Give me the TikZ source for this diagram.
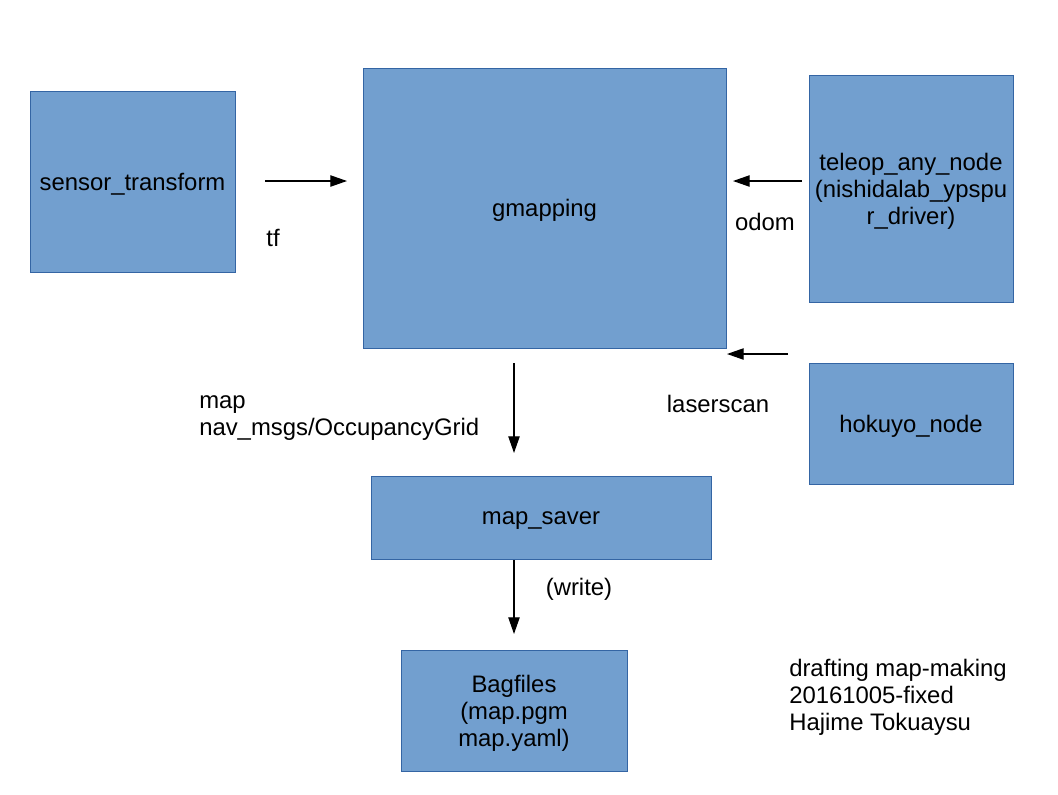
\documentclass[tikz,border=0pt]{standalone}
\usepackage{fontspec}
\setmainfont{Liberation Sans}
\usetikzlibrary{arrows.meta}
\definecolor{boxfill}{HTML}{729FCF}
\definecolor{boxline}{HTML}{3465A4}
\begin{document}
\begin{tikzpicture}[x=0.75pt,y=-0.75pt,
  blk/.style={draw=boxline,fill=boxfill,line width=0.6pt,inner sep=0pt},
  txt/.style={align=center,inner sep=0pt,yshift=-2pt,font=\fontsize{17.9}{20.25}\selectfont},
  lbl/.style={align=left,inner sep=0pt,font=\fontsize{17.9}{20.25}\selectfont},
  conn/.style={line width=0.9pt,-{Triangle[length=12.5pt,width=8.5pt]}}]
\useasboundingbox[fill=white] (0,0) rectangle (1058,794);
\node[blk,minimum width=205*0.75pt,minimum height=181*0.75pt,
  label={[txt]center:sensor\_transform}] (st) at (132.5,181.5) {};
\node[blk,minimum width=363*0.75pt,minimum height=280*0.75pt,
  label={[txt]center:gmapping}] (gm) at (544.5,208) {};
\node[blk,minimum width=204*0.75pt,minimum height=227*0.75pt,
  label={[txt]center:{teleop\_any\_node\\(nishidalab\_ypspu\\r\_driver)}}] (tel) at (911,188.5) {};
\node[blk,minimum width=204*0.75pt,minimum height=121*0.75pt,
  label={[txt]center:hokuyo\_node}] (hok) at (911,423.5) {};
\node[blk,minimum width=340*0.75pt,minimum height=83*0.75pt,
  label={[txt]center:map\_saver}] (ms) at (541,517.5) {};
\node[blk,minimum width=226*0.75pt,minimum height=121*0.75pt,
  label={[txt]center:{Bagfiles\\(map.pgm\\map.yaml)}}] (bag) at (514,710.5) {};

\coordinate (tfA) at (265,181); \coordinate (tfB) at (347,181);
\coordinate (odA) at (802,181); \coordinate (odB) at (733,181);
\coordinate (lsA) at (788,354); \coordinate (lsB) at (727,354);
\coordinate (mpA) at (514,363); \coordinate (mpB) at (514,453);
\coordinate (wrA) at (514,560); \coordinate (wrB) at (514,634);
\draw[conn] (tfA) -- (tfB);
\draw[conn] (odA) -- (odB);
\draw[conn] (lsA) -- (lsB);
\draw[conn] (mpA) -- (mpB);
\draw[conn] (wrA) -- (wrB);

\node[lbl] (ltf) at (273,238) {tf};
\node[lbl] (lod) at (765,222) {odom};
\node[lbl] (lls) at (718,404) {laserscan};
\node[lbl,anchor=west] (lmp) at (199,418.5) {map\\nav\_msgs/OccupancyGrid};
\node[lbl] (lwr) at (579,589.5) {(write)};
\node[lbl,anchor=west] (foot) at (789,697.5) {drafting map-making\\20161005-fixed\\Hajime Tokuaysu};
\end{tikzpicture}
\end{document}
